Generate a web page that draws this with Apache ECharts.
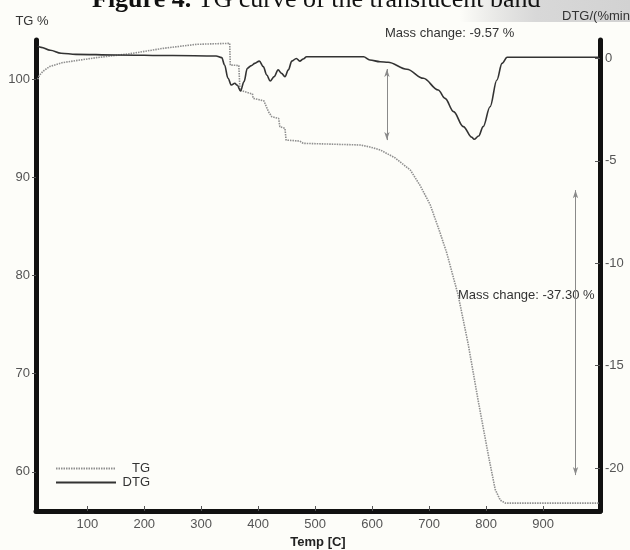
<!DOCTYPE html>
<html>
<head>
<meta charset="utf-8">
<script src="https://cdn.jsdelivr.net/npm/echarts@6/dist/echarts.min.js"></script>
<style>
html,body{margin:0;padding:0;background:#fdfdf9;}
#c{width:630px;height:550px;}
</style>
</head>
<body>
<div id="c"></div>
<script>
// ---- data ----
var tgTemp = [13,16,22,34,57,116,175,233,292,350,351,366,368,385,390,391,410,412,418,424,436,438,447,449,473,479,579,596,614,640,667,684,702,719,731,751,769,786,804,816,825,834,998];
var tgVal  = [100.0,100.4,100.8,101.3,101.7,102.2,102.6,103.15,103.56,103.66,101.45,101.4,98.9,98.57,98.5,98.06,97.8,97.7,96.7,96.18,96.0,95.16,95.0,93.8,93.7,93.47,93.3,93.1,92.8,92.0,90.75,89.2,87.2,84.4,82.3,78.0,72.9,67.3,61.7,58.2,57.1,56.8,56.8];

var dtgTemp = [13,19,35,54,80,150,250,326,336,341,347,353,359,363,369,375,381,388,394,402,409,415,421,428,435,441,447,453,459,467,473,479,485,585,596,614,628,661,690,716,728,743,760,775,779,787,795,807,819,828,837,998];
var dtgVal  = [0.6,0.54,0.4,0.25,0.2,0.17,0.14,0.12,0.04,-0.32,-0.97,-1.3,-1.21,-1.3,-1.59,-1.14,-0.48,-0.35,-0.24,-0.13,-0.4,-0.81,-1.1,-0.89,-0.56,-0.73,-0.89,-0.56,-0.13,0.0,-0.13,-0.03,0.08,0.08,-0.08,-0.16,-0.19,-0.53,-0.97,-1.54,-1.95,-2.6,-3.33,-3.85,-3.95,-3.79,-3.33,-2.36,-1.05,-0.24,0.06,0.06];

var xTicks = [100,200,300,400,500,600,700,800,900];
var tgTicks = [60,70,80,90,100];
var dtgTicks = [0,-5,-10,-15,-20];

// mass-change arrows: [temp, from, to] in TG units
var arrow1 = [626, 101.04, 93.8];
var arrow2 = [957, 88.7, 59.66];

var titleText = 'Figure 4.';
var titleRest = ' TG curve of the translucent band';
var note1 = 'Mass change: -9.57 %';
var note2 = 'Mass change: -37.30 %';

function zip(a,b){ return a.map(function(v,i){ return [v,b[i]]; }); }

var sans = 'Liberation Sans, Arial, sans-serif';
var chart = echarts.init(document.getElementById('c'), null, {renderer:'canvas'});
chart.setOption({
  backgroundColor: '#fdfdf9',
  animation: false,
  grid: {left: 36, right: 30, top: 40, bottom: 39, containLabel: false, outerBoundsMode: 'none'},
  legend: {
    left: 55, top: 462, orient: 'vertical', padding: 0,
    itemWidth: 60, itemHeight: 10, itemGap: 1,
    itemStyle: {opacity: 0},
    formatter: function(n){ return '{r|' + n + '}'; },
    textStyle: {fontFamily: sans, rich: {r: {width: 29, align: 'right', fontSize: 13, lineHeight: 13, color: '#333', fontFamily: sans}}},
    data: ['TG','DTG']
  },
  xAxis: {
    type: 'value', min: 10, max: 1000,
    name: 'Temp [C]', nameLocation: 'middle', nameGap: 24,
    nameTextStyle: {fontFamily: sans, fontSize: 13, fontWeight: 'bold', color: '#222'},
    axisLine: {onZero: false, lineStyle: {color: '#111', width: 5}},
    axisTick: {inside: true, length: 5, customValues: xTicks, lineStyle: {color: '#555'}},
    axisLabel: {customValues: xTicks, margin: 7, fontFamily: sans, fontSize: 13, color: '#555'},
    splitLine: {show: false}
  },
  yAxis: [{
    type: 'value', min: 56, max: 104, position: 'left',
    name: 'TG %', nameLocation: 'end', nameGap: 12,
    nameTextStyle: {fontFamily: sans, fontSize: 13, color: '#333', align: 'center', padding: [0, 8, 0, 0]},
    axisLine: {show: true, onZero: false, lineStyle: {color: '#111', width: 5}},
    axisTick: {show: true, length: 4, customValues: tgTicks, lineStyle: {color: '#555'}},
    axisLabel: {customValues: tgTicks, margin: 6, fontFamily: sans, fontSize: 13, color: '#555'},
    splitLine: {show: false}
  },{
    type: 'value', min: -22.1, max: 0.9, position: 'right',
    name: 'DTG/(%min)', nameLocation: 'end', nameGap: 17,
    nameTextStyle: {fontFamily: sans, fontSize: 13, color: '#333', align: 'left', padding: [0, 0, 0, -38]},
    axisLine: {show: true, onZero: false, lineStyle: {color: '#111', width: 5}},
    axisTick: {show: true, inside: true, length: 5, customValues: dtgTicks, lineStyle: {color: '#555'}},
    axisLabel: {customValues: dtgTicks, margin: 5, fontFamily: sans, fontSize: 13, color: '#555'},
    splitLine: {show: false}
  }],
  series: [{
    name: 'TG', type: 'line', yAxisIndex: 0, data: zip(tgTemp, tgVal),
    symbol: 'none', showSymbol: false,
    lineStyle: {color: '#8f8f8f', width: 1.6, type: [1.5, 1]},
    itemStyle: {color: '#8f8f8f'},
    markLine: {
      silent: true, symbol: ['arrow','arrow'], symbolSize: [4, 8],
      lineStyle: {color: '#8a8a8a', width: 1, type: 'solid'},
      label: {show: false},
      data: [
        [{coord: [arrow1[0], arrow1[1]]}, {coord: [arrow1[0], arrow1[2]]}],
        [{coord: [arrow2[0], arrow2[1]]}, {coord: [arrow2[0], arrow2[2]]}]
      ]
    }
  },{
    name: 'DTG', type: 'line', yAxisIndex: 1, data: zip(dtgTemp, dtgVal),
    symbol: 'none', showSymbol: false, smooth: 0.35, smoothMonotone: 'x',
    lineStyle: {color: '#333', width: 1.6},
    itemStyle: {color: '#333'}
  }],
  graphic: [
    {type: 'rect', left: 460, top: 0, shape: {width: 170, height: 22}, z: -1,
     style: {fill: new echarts.graphic.LinearGradient(0,0,1,0,[{offset:0,color:'rgba(205,205,205,0)'},{offset:0.45,color:'#d8d8d8'},{offset:1,color:'#d2d2d2'}])}},
    {type: 'text', x: 92, y: 13, z: 10,
     style: {text: '{b|' + titleText + '}{n|' + titleRest + '}', textVerticalAlign: 'bottom',
       rich: {b: {fontFamily: 'Liberation Serif, Times New Roman, serif', fontSize: 26, fontWeight: 'bold', fill: '#111'},
              n: {fontFamily: 'Liberation Serif, Times New Roman, serif', fontSize: 26, fill: '#111'}}}},
    {type: 'text', x: 385, y: 33, style: {text: note1, fontFamily: sans, fontSize: 13, fill: '#333', textVerticalAlign: 'middle'}},
    {type: 'text', x: 458, y: 295, style: {text: note2, fontFamily: sans, fontSize: 13, fill: '#333', textVerticalAlign: 'middle'}}
  ]
});
</script>
</body>
</html>
